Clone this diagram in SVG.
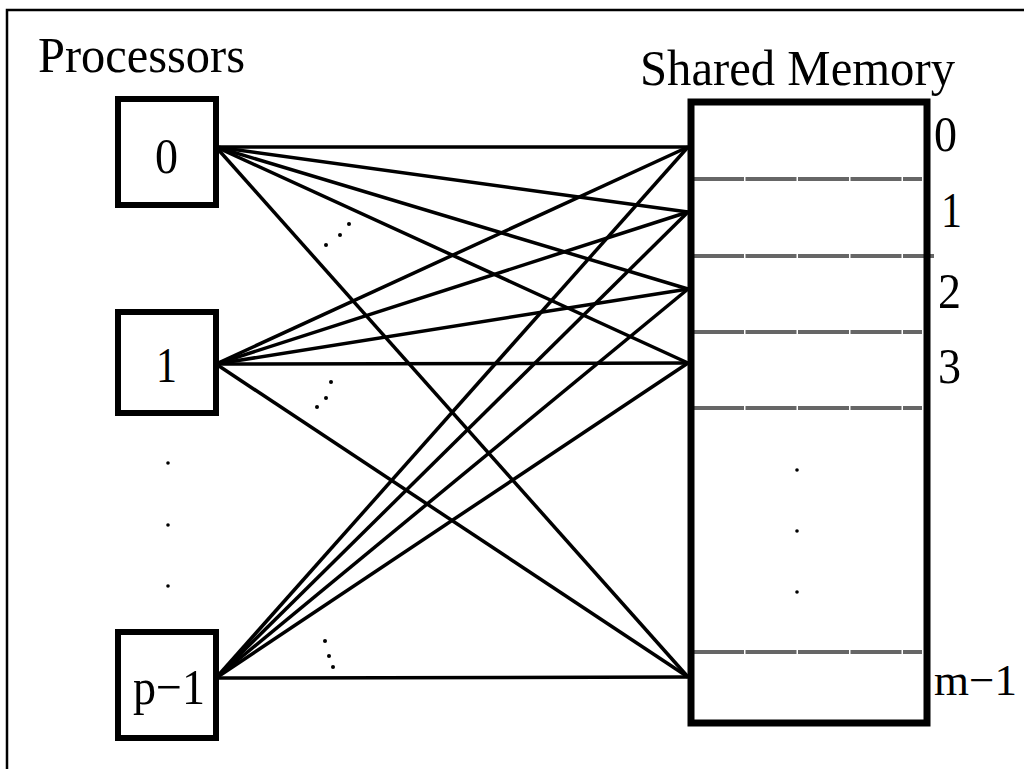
<svg xmlns="http://www.w3.org/2000/svg" width="1024" height="769" viewBox="0 0 1024 769">
<style>
.t{font-family:"Liberation Serif","DejaVu Serif","Times New Roman",serif;fill:#000}
.big{font-size:51px}
.box{fill:none;stroke:#000;stroke-width:6}
.c line{stroke:#000;stroke-width:3.5}
.div{stroke:#666;stroke-width:4;stroke-dasharray:51 1.5}
.dot{fill:#000}
</style>
<rect width="1024" height="769" fill="#fff"/>
<path d="M7,769 V10 H1024" fill="none" stroke="#000" stroke-width="2.5"/>
<text class="t big" x="38" y="72" textLength="207" lengthAdjust="spacingAndGlyphs">Processors</text>
<text class="t big" x="640" y="85" textLength="315" lengthAdjust="spacingAndGlyphs">Shared Memory</text>
<g class="c" id="connectors">
<line x1="216" y1="147" x2="688" y2="147"/>
<line x1="216" y1="147" x2="688" y2="212"/>
<line x1="216" y1="147" x2="688" y2="289"/>
<line x1="216" y1="147" x2="688" y2="363"/>
<line x1="216" y1="147" x2="688" y2="677"/>
<line x1="216" y1="364" x2="688" y2="147"/>
<line x1="216" y1="364" x2="688" y2="212"/>
<line x1="216" y1="364" x2="688" y2="289"/>
<line x1="216" y1="364" x2="688" y2="363"/>
<line x1="216" y1="364" x2="688" y2="677"/>
<line x1="216" y1="678" x2="688" y2="147"/>
<line x1="216" y1="678" x2="688" y2="212"/>
<line x1="216" y1="678" x2="688" y2="289"/>
<line x1="216" y1="678" x2="688" y2="363"/>
<line x1="216" y1="678" x2="688" y2="677"/>
</g>
<g id="p0">
<rect class="box" x="118" y="99" width="98" height="106"/>
<text class="t big" x="155" y="173" textLength="23" lengthAdjust="spacingAndGlyphs">0</text>
</g>
<g id="p1">
<rect class="box" x="118" y="312" width="98" height="101"/>
<text class="t big" x="156" y="382" textLength="21" lengthAdjust="spacingAndGlyphs">1</text>
</g>
<g id="pdots">
<circle class="dot" cx="168" cy="463" r="1.8"/>
<circle class="dot" cx="168" cy="525" r="1.8"/>
<circle class="dot" cx="168" cy="586" r="1.8"/>
</g>
<g id="pm1">
<rect class="box" x="118" y="632" width="98" height="106"/>
<text class="t big" x="133" y="704" textLength="72" lengthAdjust="spacingAndGlyphs">p−1</text>
</g>
<g id="cdots">
<circle class="dot" cx="326" cy="245" r="2"/>
<circle class="dot" cx="340" cy="235" r="2"/>
<circle class="dot" cx="349" cy="224" r="2"/>
<circle class="dot" cx="317" cy="407" r="2"/>
<circle class="dot" cx="326" cy="398" r="2"/>
<circle class="dot" cx="331" cy="382" r="2"/>
<circle class="dot" cx="325" cy="641" r="2"/>
<circle class="dot" cx="329" cy="656" r="2"/>
<circle class="dot" cx="333" cy="667" r="2"/>
</g>
<g id="memory">
<line class="div" x1="693" y1="179" x2="922" y2="179"/>
<line class="div" x1="693" y1="256" x2="934" y2="256"/>
<line class="div" x1="693" y1="332" x2="922" y2="332"/>
<line class="div" x1="693" y1="408" x2="922" y2="408"/>
<line class="div" x1="693" y1="652" x2="922" y2="652"/>
<rect x="691" y="102" width="236" height="621" fill="none" stroke="#000" stroke-width="7"/>
<circle class="dot" cx="797" cy="470" r="1.8"/>
<circle class="dot" cx="797" cy="531" r="1.8"/>
<circle class="dot" cx="797" cy="592" r="1.8"/>
<text class="t big" x="934" y="151" textLength="23" lengthAdjust="spacingAndGlyphs">0</text>
<text class="t big" x="941" y="227" textLength="21" lengthAdjust="spacingAndGlyphs">1</text>
<text class="t big" x="938" y="308" textLength="23" lengthAdjust="spacingAndGlyphs">2</text>
<text class="t big" x="938" y="383" textLength="23" lengthAdjust="spacingAndGlyphs">3</text>
<text class="t" x="934" y="695" font-size="45">m−1</text>
</g>
</svg>
